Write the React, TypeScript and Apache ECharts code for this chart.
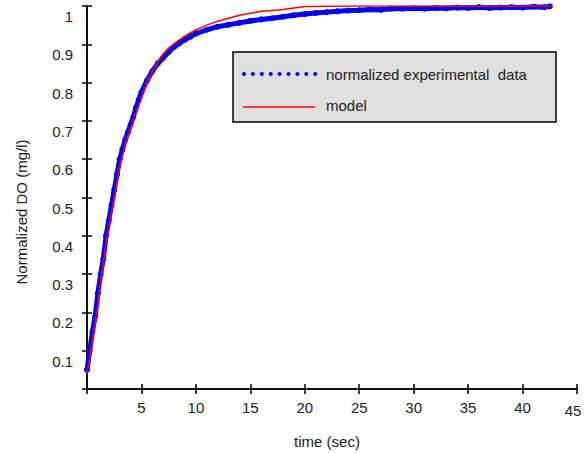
import React, { useEffect, useRef } from "react";
import * as echarts from "echarts";

const expTime = [0, 0.25, 0.5, 0.75, 1, 1.25, 1.5, 1.75, 2, 2.25, 2.5, 2.75, 3, 3.25, 3.5, 3.75, 4, 4.25, 4.5, 4.75, 5, 5.5, 6, 6.5, 7, 7.5, 8, 8.5, 9, 9.5, 10, 11, 12, 13, 14, 15, 16, 17, 18, 19, 20, 21, 22, 23, 24, 25, 26, 27, 28, 29, 30, 31, 32, 33, 34, 35, 36, 37, 38, 39, 40, 41, 42, 42.5];
const expValues = [0.05, 0.1, 0.15, 0.19, 0.25, 0.3, 0.34, 0.4, 0.44, 0.48, 0.52, 0.56, 0.6, 0.625, 0.65, 0.67, 0.69, 0.71, 0.735, 0.755, 0.775, 0.805, 0.83, 0.85, 0.865, 0.88, 0.893, 0.903, 0.912, 0.92, 0.928, 0.938, 0.946, 0.951, 0.956, 0.961, 0.965, 0.968, 0.972, 0.976, 0.979, 0.982, 0.984, 0.986, 0.988, 0.989, 0.991, 0.99, 0.993, 0.993, 0.994, 0.993, 0.995, 0.994, 0.996, 0.995, 0.997, 0.995, 0.996, 0.997, 0.996, 0.998, 0.997, 0.999];

const modelTime = [0, 0.25, 0.5, 0.75, 1, 1.25, 1.5, 1.75, 2, 2.25, 2.5, 2.75, 3, 3.5, 4, 4.5, 5, 5.5, 6, 6.5, 7, 7.5, 8, 9, 10, 11, 12, 13, 14, 15, 16, 17, 18, 19, 20, 25, 30, 35, 40, 42.5];
const modelValues = [0.04, 0.08, 0.13, 0.17, 0.22, 0.28, 0.33, 0.38, 0.42, 0.46, 0.5, 0.54, 0.58, 0.64, 0.68, 0.72, 0.76, 0.8, 0.83, 0.855, 0.875, 0.89, 0.902, 0.922, 0.938, 0.95, 0.96, 0.968, 0.976, 0.981, 0.986, 0.988, 0.991, 0.995, 0.999, 1.0, 1.0, 1.0, 1.0, 1.0];

const xTicks = { min: 0, max: 45, interval: 5 };
const yTicks = { min: 0, max: 1, interval: 0.1 };
const legendLabels = ["normalized experimental  data", "model"];
const xName = "time (sec)";
const yName = "Normalized DO (mg/l)";

const FONT = "'Liberation Sans', Arial, sans-serif";

export default function App() {
  const ref = useRef<HTMLDivElement>(null);
  useEffect(() => {
    if (!ref.current) return;
    const chart = echarts.init(ref.current, undefined, { renderer: "svg" });
    const axisLine = { show: true, lineStyle: { color: "#000", width: 1.5 } };
    const tick = { show: true, inside: true, length: 5, lineStyle: { color: "#000", width: 1.5 } };
    const dots = [];
    for (let i = 0; i < 9; i++) {
      dots.push({
        type: "circle",
        shape: { cx: 244 + i * 8.9, cy: 74, r: 2 },
        style: { fill: "#0000ff" },
      });
    }
    chart.setOption({
      animation: false,
      backgroundColor: "#fff",
      grid: { left: 87, right: 11, top: 6, bottom: 64, containLabel: false },
      xAxis: [
        {
          type: "value",
          min: xTicks.min,
          max: xTicks.max,
          interval: xTicks.interval,
          axisLine,
          axisTick: tick,
          splitLine: { show: false },
          axisLabel: {
            showMinLabel: false,
            margin: 11,
            color: "#222",
            fontFamily: FONT,
            fontSize: 15,
            formatter: (v: number) => (v === 45 ? "{e|45}" : String(v)),
            rich: { e: { fontFamily: FONT, fontSize: 15, color: "#222", padding: [3, 8, 0, 0] } },
          },
        },
        {
          type: "value",
          position: "top",
          min: xTicks.min,
          max: xTicks.max,
          interval: xTicks.interval,
          axisLine,
          axisTick: tick,
          splitLine: { show: false },
          axisLabel: { show: false },
        },
      ],
      yAxis: [
        {
          type: "value",
          min: yTicks.min,
          max: yTicks.max,
          interval: yTicks.interval,
          axisLine,
          axisTick: tick,
          splitLine: { show: false },
          axisLabel: {
            showMinLabel: false,
            margin: 14,
            color: "#222",
            fontFamily: FONT,
            fontSize: 15,
            verticalAlign: "top",
            lineHeight: 21,
            formatter: (v: number) => String(Math.round(v * 10) / 10),
          },
        },
        {
          type: "value",
          position: "right",
          min: yTicks.min,
          max: yTicks.max,
          interval: yTicks.interval,
          axisLine,
          axisTick: tick,
          splitLine: { show: false },
          axisLabel: { show: false },
        },
      ],
      series: [
        {
          name: legendLabels[0],
          type: "line",
          xAxisIndex: 0,
          yAxisIndex: 0,
          data: expTime.map((t, i) => [t, expValues[i]]),
          lineStyle: { color: "#0000ff", width: 5 },
          itemStyle: { color: "#0000ff" },
          symbol: "circle",
          symbolSize: 6,
          showSymbol: true,
          z: 2,
        },
        {
          name: legendLabels[1],
          type: "line",
          xAxisIndex: 0,
          yAxisIndex: 0,
          data: modelTime.map((t, i) => [t, modelValues[i]]),
          lineStyle: { color: "#ff0000", width: 1.5 },
          itemStyle: { color: "#ff0000" },
          symbol: "none",
          z: 3,
        },
      ],
      graphic: [
        {
          type: "rect",
          shape: { x: 233, y: 52, width: 323, height: 70 },
          style: { fill: "#e0e0e0", stroke: "#000", lineWidth: 1.5 },
          z: 10,
        },
        ...dots.map((d) => ({ ...d, z: 11 })),
        {
          type: "line",
          shape: { x1: 243, y1: 107, x2: 315, y2: 107 },
          style: { stroke: "#ff0000", lineWidth: 1.5 },
          z: 11,
        },
        {
          type: "text",
          x: 326,
          y: 74,
          style: { text: legendLabels[0], font: `15px ${FONT}`, fill: "#222", verticalAlign: "middle" },
          z: 11,
        },
        {
          type: "text",
          x: 326,
          y: 105,
          style: { text: legendLabels[1], font: `15px ${FONT}`, fill: "#222", verticalAlign: "middle" },
          z: 11,
        },
        {
          type: "text",
          x: 327,
          y: 441,
          style: { text: xName, font: `15px ${FONT}`, fill: "#222", align: "center", verticalAlign: "middle" },
        },
        {
          type: "text",
          x: 21,
          y: 212,
          rotation: Math.PI / 2,
          style: { text: yName, font: `15px ${FONT}`, fill: "#222", align: "center", verticalAlign: "middle" },
        },
      ],
    });
    return () => chart.dispose();
  }, []);
  return <div ref={ref} style={{ width: 588, height: 453, position: "absolute", left: 0, top: 0 }} />;
}
